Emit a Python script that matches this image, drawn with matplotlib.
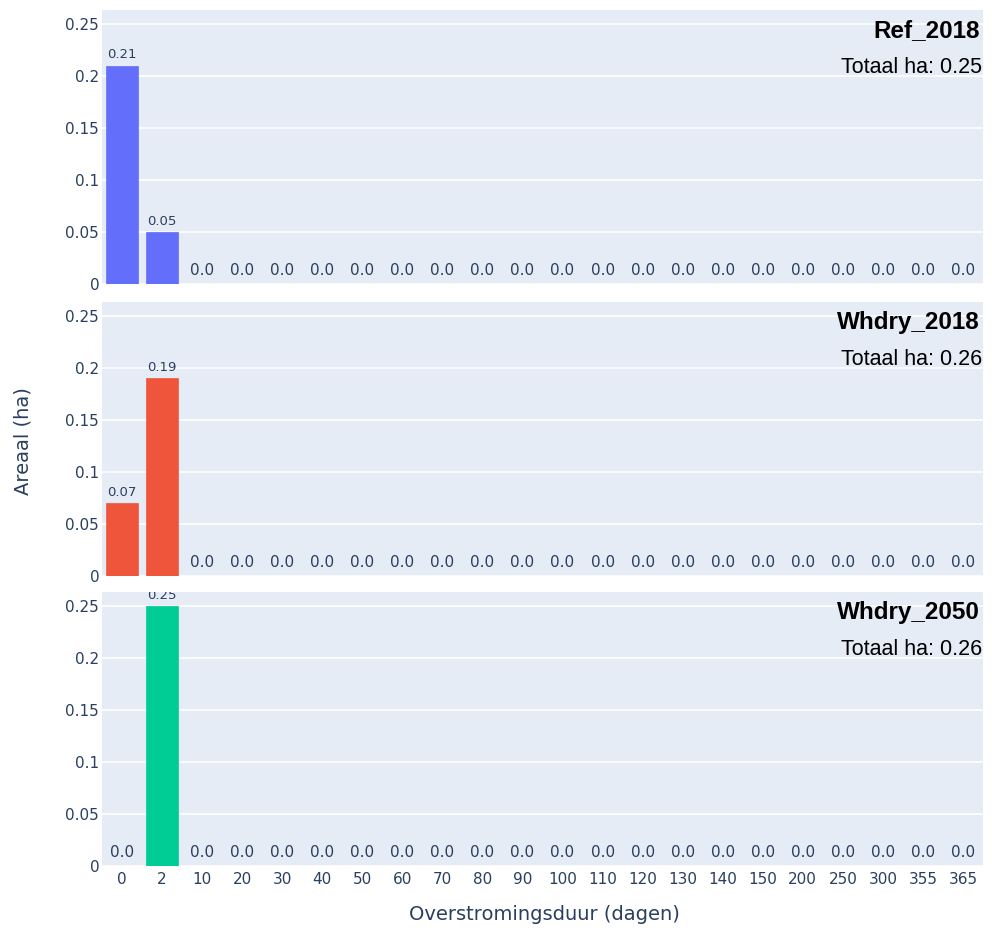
import matplotlib.pyplot as plt

categories = ['0', '2', '10', '20', '30', '40', '50', '60', '70', '80', '90', '100',
              '110', '120', '130', '140', '150', '200', '250', '300', '355', '365']
ref_2018 = [0.21, 0.05] + [0.0] * 20
whdry_2018 = [0.07, 0.19] + [0.0] * 20
whdry_2050 = [0.0, 0.25] + [0.0] * 20
scenarios = ['Ref_2018', 'Whdry_2018', 'Whdry_2050']
totals = [0.25, 0.26, 0.26]
colors = ['#636EFA', '#EF553B', '#00CC96']
yticks = [0, 0.05, 0.1, 0.15, 0.2, 0.25]
ytick_labels = ['0', '0.05', '0.1', '0.15', '0.2', '0.25']

tick_color = '#2a3f5f'
bg = '#E5ECF6'

fig = plt.figure(figsize=(9.92, 9.34), dpi=100)
# (top, bottom) in pixels for each panel
panel_px = [(10, 284), (302, 576), (592, 866)]
x = list(range(len(categories)))

for i, values in enumerate([ref_2018, whdry_2018, whdry_2050]):
    top_px, bot_px = panel_px[i]
    ax = fig.add_axes([102 / 992, 1 - bot_px / 934, 881 / 992, (bot_px - top_px) / 934])
    ax.set_facecolor(bg)
    ax.bar(x, values, width=0.8, color=colors[i], edgecolor=colors[i], linewidth=0.5, zorder=3)
    ax.set_xlim(-0.5, len(categories) - 0.5)
    ax.set_ylim(0, 0.2635)
    ax.set_yticks(yticks)
    ax.set_yticklabels(ytick_labels)
    ax.grid(axis='y', color='white', linewidth=1.2, zorder=0)
    ax.set_axisbelow(True)
    for s in ax.spines.values():
        s.set_visible(False)
    ax.tick_params(axis='y', length=0, colors=tick_color, labelsize=11, pad=2)
    ax.tick_params(axis='x', length=0, colors=tick_color, labelsize=11, pad=4)
    ax.set_xticks(x)
    if i == 2:
        ax.set_xticklabels(categories)
    else:
        ax.set_xticklabels([])

    for xi, v in zip(x, values):
        if v > 0:
            ax.annotate(f'{v:.2f}', (xi, v), xytext=(0, 3), textcoords='offset points',
                        ha='center', va='bottom', fontsize=9.5, color=tick_color,
                        annotation_clip=False, clip_on=True)
        else:
            ax.annotate('0.0', (xi, 0), xytext=(0, 9.5), textcoords='offset points',
                        ha='center', va='center', fontsize=11, color=tick_color)

    ax.text(0.9966, 0.925, scenarios[i], transform=ax.transAxes, ha='right', va='center',
            fontsize=17.5, fontweight='bold', fontfamily='Liberation Sans', color='black')
    ax.text(0.9985, 0.79, f'Totaal ha: {totals[i]:.2f}', transform=ax.transAxes,
            ha='right', va='center', fontsize=15.5, fontfamily='Liberation Sans', color='black')

fig.text(23.5 / 992, 1 - 441 / 934, 'Areaal (ha)', rotation=90, ha='center', va='center',
         fontsize=14, color=tick_color)
fig.text(544 / 992, 1 - 915 / 934, 'Overstromingsduur (dagen)', ha='center', va='center',
         fontsize=14, color=tick_color)

fig.savefig('out.png', dpi=100)
